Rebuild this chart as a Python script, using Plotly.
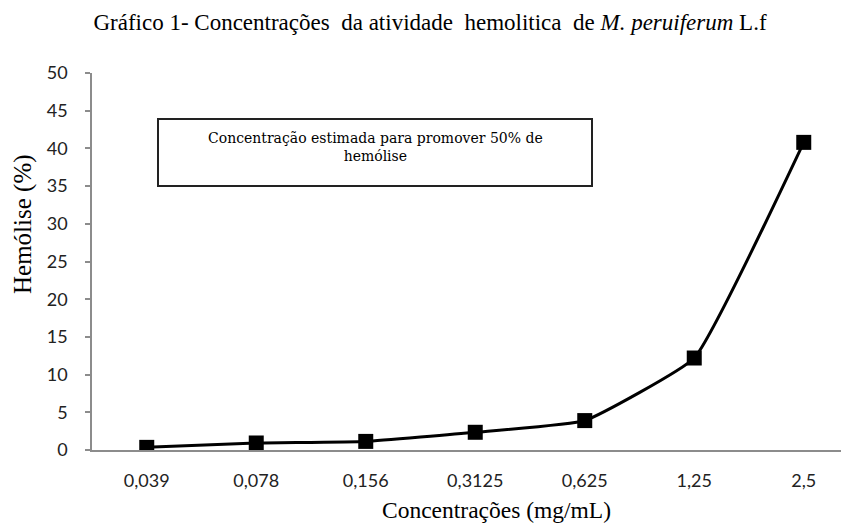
import plotly.graph_objects as go

categories = ["0,039", "0,078", "0,156", "0,3125", "0,625", "1,25", "2,5"]
hemolise = [0.35, 0.93, 1.14, 2.35, 3.9, 12.2, 40.8]
y_ticks = [0, 5, 10, 15, 20, 25, 30, 35, 40, 45, 50]

OFF = 8                       # default page body margin
W, H = 849 - OFF, 524 - OFF
L, R, T = 92 - OFF, 0, 73 - OFF
B = H - (450 - OFF)
PW, PH = W - L - R, H - T - B
step = 109.5  # pixels per category

def px(x):   # page pixel -> paper x
    return (x - OFF - L) / PW

def py(y):   # page pixel -> paper y
    return (H - B - (y - OFF)) / PH

fig = go.Figure()
fig.add_trace(go.Scatter(
    x=list(range(len(categories))), y=hemolise, mode="lines+markers",
    line=dict(color="black", width=3, shape="spline", smoothing=0.35),
    marker=dict(symbol="square", size=15, color="black"),
    showlegend=False, hoverinfo="skip",
))

serif = "Liberation Serif, Times New Roman, serif"
sans = "Lato, Open Sans, sans-serif"
sp = "&nbsp;"

fig.update_layout(
    width=W, height=H, autosize=False,
    margin=dict(l=L, r=R, t=T, b=B, pad=0),
    paper_bgcolor="white", plot_bgcolor="white",
    title=dict(
        text=f"Gráfico 1- Concentrações {sp}da atividade {sp}hemolitica {sp}de <i>M. peruiferum</i> L.f",
        font=dict(family=serif, size=23, color="black"),
        x=(430 - OFF) / W, xref="container", xanchor="center",
        y=1 - (22 - OFF) / H, yref="container", yanchor="middle",
    ),
    xaxis=dict(
        range=[-0.5, -0.5 + PW / step],
        tickmode="array", tickvals=list(range(len(categories))), ticktext=categories,
        showline=True, linecolor="#8c8c8c", linewidth=1.5,
        ticks="", showgrid=False, zeroline=False,
        tickfont=dict(family=sans, size=18, color="#222222"),
        ticklabelstandoff=14,
    ),
    yaxis=dict(
        range=[0, 50], tickmode="array", tickvals=y_ticks,
        showline=True, linecolor="#8c8c8c", linewidth=1.5,
        ticks="outside", ticklen=5, tickcolor="#8c8c8c", tickwidth=1.5,
        showgrid=False, zeroline=False,
        tickfont=dict(family=sans, size=18, color="#222222"),
        ticklabelstandoff=14,
    ),
)

# y-axis title
fig.add_annotation(
    text="Hemólise (%)", xref="paper", yref="paper",
    x=px(23), y=py(224), xanchor="center", yanchor="middle",
    textangle=-90, showarrow=False,
    font=dict(family=serif, size=25, color="black"),
)
# x-axis title
fig.add_annotation(
    text="Concentrações (mg/mL)", xref="paper", yref="paper",
    x=px(496), y=py(510), xanchor="center", yanchor="middle",
    showarrow=False,
    font=dict(family=serif, size=23.5, color="black"),
)
# text box
fig.add_shape(
    type="rect", xref="paper", yref="paper",
    x0=px(158), x1=px(592), y0=py(186), y1=py(119),
    line=dict(color="#222222", width=2), fillcolor="white",
)
fig.add_annotation(
    text="Concentração estimada para promover 50% de<br>hemólise",
    xref="paper", yref="paper", x=px(375), y=py(147),
    xanchor="center", yanchor="middle", showarrow=False, align="center",
    font=dict(family="DejaVu Serif, serif", size=14, color="black"),
)

fig.write_html("out.html")
